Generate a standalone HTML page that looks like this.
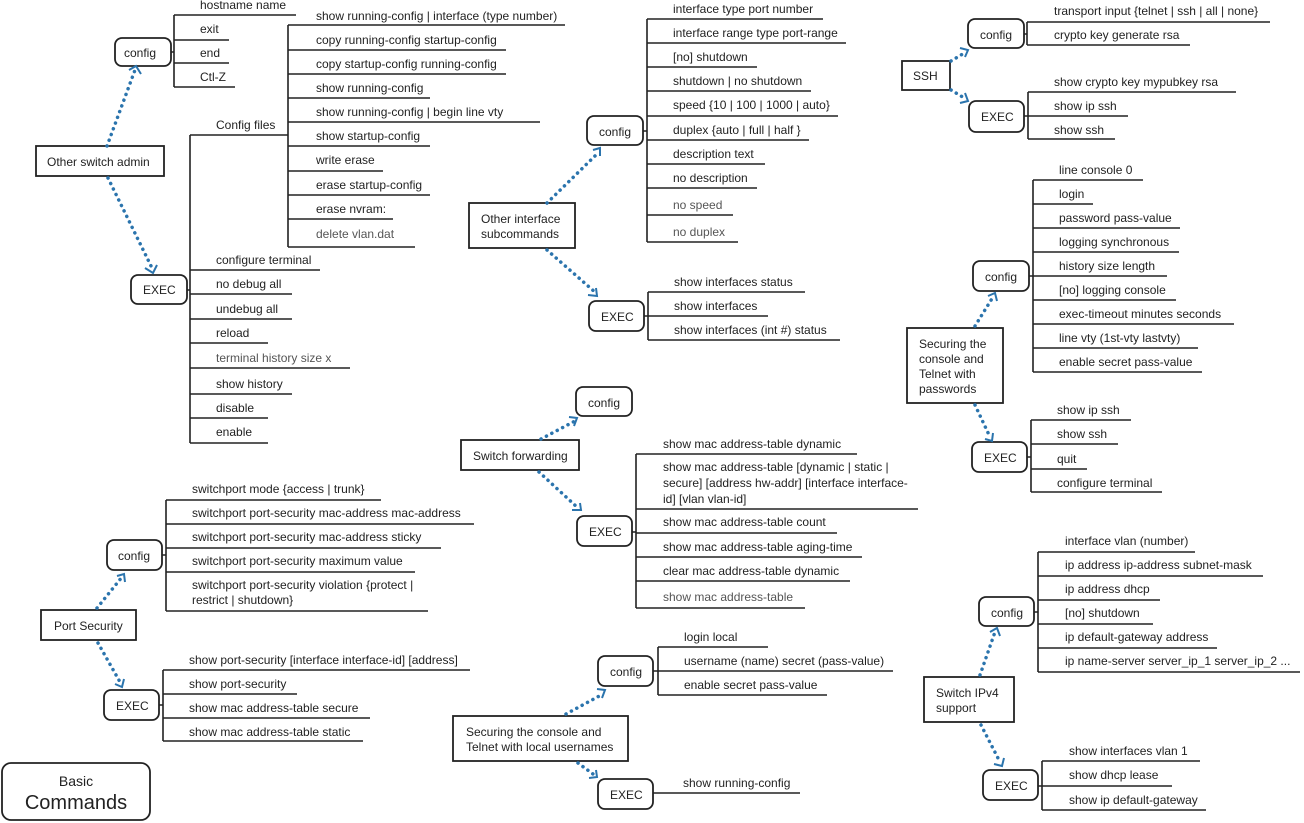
<!DOCTYPE html>
<html><head><meta charset="utf-8"><style>
html,body{margin:0;padding:0;background:#fff;}
svg{display:block;}
text{font-family:"Liberation Sans",sans-serif;font-size:12px;fill:#222;}
.g{fill:#555;}
.l{stroke:#222;stroke-width:1.6;fill:none;}
.b{stroke:#222;stroke-width:1.8;fill:#fff;}
.a{stroke:#2b74ad;stroke-width:3.5;stroke-dasharray:0.1 6;stroke-linecap:round;fill:none;}
.h{stroke:#2b74ad;stroke-width:2;fill:none;}
</style></head><body>
<svg width="1304" height="823" viewBox="0 0 1304 823" xmlns="http://www.w3.org/2000/svg">

<!-- ===== Other switch admin ===== -->
<rect class="b" x="36" y="146" width="128" height="30"/>
<text x="47" y="166">Other switch admin</text>
<rect class="b" x="115" y="38" width="56" height="28" rx="7"/>
<text x="124" y="57">config</text>
<rect class="b" x="131" y="275" width="56" height="29" rx="7"/>
<text x="143" y="294">EXEC</text>
<path class="a" d="M107 146 L135 70"/><path class="h" d="M129 70 L136 66 L141 74"/>
<path class="a" d="M108 178 L152 268"/><path class="h" d="M145 268 L153 273 L157 265"/>

<path class="l" d="M171 52 H174 M174 15 V87 M174 15 H296 M174 40 H229 M174 63 H229 M174 87 H235"/>
<text x="200" y="9">hostname name</text>
<text x="200" y="33">exit</text>
<text x="200" y="57">end</text>
<text x="200" y="81">Ctl-Z</text>

<path class="l" d="M190 135 V443 M190 135 H288 M288 25 V247 M187 290 H190"/>
<text x="216" y="129">Config files</text>
<path class="l" d="M288 25 H565 M288 50 H506 M288 74 H506 M288 98 H430 M288 122 H540 M288 146 H430 M288 171 H383 M288 195 H430 M288 219 H393 M288 247 H415"/>
<text x="316" y="20">show running-config | interface (type number)</text>
<text x="316" y="44">copy running-config startup-config</text>
<text x="316" y="68">copy startup-config running-config</text>
<text x="316" y="92">show running-config</text>
<text x="316" y="116">show running-config | begin line vty</text>
<text x="316" y="140">show startup-config</text>
<text x="316" y="164">write erase</text>
<text x="316" y="189">erase startup-config</text>
<text x="316" y="213">erase nvram:</text>
<text x="316" y="238" class="g">delete vlan.dat</text>

<path class="l" d="M190 270 H320 M190 294 H292 M190 319 H292 M190 343 H268 M190 368 H350 M190 394 H292 M190 418 H268 M190 443 H268"/>
<text x="216" y="264">configure terminal</text>
<text x="216" y="288">no debug all</text>
<text x="216" y="313">undebug all</text>
<text x="216" y="337">reload</text>
<text x="216" y="362" class="g">terminal history size x</text>
<text x="216" y="388">show history</text>
<text x="216" y="412">disable</text>
<text x="216" y="436">enable</text>

<!-- ===== Other interface subcommands ===== -->
<rect class="b" x="469" y="203" width="106" height="45"/>
<text x="481" y="223">Other interface</text>
<text x="481" y="238">subcommands</text>
<rect class="b" x="587" y="116" width="56" height="29" rx="7"/>
<text x="599" y="136">config</text>
<rect class="b" x="589" y="301" width="55" height="30" rx="7"/>
<text x="601" y="321">EXEC</text>
<path class="a" d="M547 203 L599 152"/><path class="h" d="M593 150 L600 148 L600 156"/>
<path class="a" d="M547 250 L596 293"/><path class="h" d="M588 295 L597 296 L596 288"/>
<path class="l" d="M643 131 H647 M647 19 V242 M647 19 H823 M647 43 H846 M647 67 H757 M647 91 H811 M647 116 H838 M647 140 H809 M647 164 H765 M647 188 H757 M647 215 H733 M647 242 H738"/>
<text x="673" y="13">interface type port number</text>
<text x="673" y="37">interface range type port-range</text>
<text x="673" y="61">[no] shutdown</text>
<text x="673" y="85">shutdown | no shutdown</text>
<text x="673" y="109">speed {10 | 100 | 1000 | auto}</text>
<text x="673" y="134">duplex {auto | full | half }</text>
<text x="673" y="158">description text</text>
<text x="673" y="182">no description</text>
<text x="673" y="209" class="g">no speed</text>
<text x="673" y="236" class="g">no duplex</text>
<path class="l" d="M644 316 H648 M648 292 V340 M648 292 H805 M648 316 H768 M648 340 H840"/>
<text x="674" y="286">show interfaces status</text>
<text x="674" y="310">show interfaces</text>
<text x="674" y="334">show interfaces (int #) status</text>

<!-- ===== SSH ===== -->
<rect class="b" x="902" y="61" width="48" height="29"/>
<text x="913" y="80">SSH</text>
<rect class="b" x="968" y="19" width="56" height="29" rx="7"/>
<text x="980" y="39">config</text>
<rect class="b" x="969" y="101" width="55" height="31" rx="7"/>
<text x="981" y="121">EXEC</text>
<path class="a" d="M951 61 L966 52"/><path class="h" d="M960 48 L968 50 L965 57"/>
<path class="a" d="M951 90 L966 99"/><path class="h" d="M960 103 L968 101 L965 93"/>
<path class="l" d="M1024 34 H1027 M1027 22 V45 M1027 22 H1270 M1027 45 H1190"/>
<text x="1054" y="15">transport input {telnet | ssh | all | none}</text>
<text x="1054" y="39">crypto key generate rsa</text>
<path class="l" d="M1024 116 H1028 M1028 92 V139 M1028 92 H1236 M1028 116 H1128 M1028 139 H1115"/>
<text x="1054" y="86">show crypto key mypubkey rsa</text>
<text x="1054" y="110">show ip ssh</text>
<text x="1054" y="134">show ssh</text>

<!-- ===== Securing console passwords ===== -->
<rect class="b" x="907" y="328" width="96" height="75"/>
<text x="919" y="348">Securing the</text>
<text x="919" y="363">console and</text>
<text x="919" y="378">Telnet with</text>
<text x="919" y="393">passwords</text>
<rect class="b" x="973" y="261" width="56" height="30" rx="7"/>
<text x="985" y="281">config</text>
<rect class="b" x="972" y="442" width="55" height="30" rx="7"/>
<text x="984" y="462">EXEC</text>
<path class="a" d="M975 326 L993 297"/><path class="h" d="M988 296 L995 293 L997 301"/>
<path class="a" d="M975 405 L990 437"/><path class="h" d="M985 439 L992 441 L993 433"/>
<path class="l" d="M1029 276 H1033 M1033 180 V372 M1033 180 H1143 M1033 204 H1093 M1033 228 H1180 M1033 252 H1179 M1033 276 H1167 M1033 300 H1176 M1033 324 H1234 M1033 348 H1198 M1033 372 H1202"/>
<text x="1059" y="174">line console 0</text>
<text x="1059" y="198">login</text>
<text x="1059" y="222">password pass-value</text>
<text x="1059" y="246">logging synchronous</text>
<text x="1059" y="270">history size length</text>
<text x="1059" y="294">[no] logging console</text>
<text x="1059" y="318">exec-timeout minutes seconds</text>
<text x="1059" y="342">line vty (1st-vty lastvty)</text>
<text x="1059" y="366">enable secret pass-value</text>
<path class="l" d="M1027 457 H1031 M1031 420 V492 M1031 420 H1131 M1031 444 H1118 M1031 469 H1087 M1031 492 H1162"/>
<text x="1057" y="414">show ip ssh</text>
<text x="1057" y="438">show ssh</text>
<text x="1057" y="463">quit</text>
<text x="1057" y="487">configure terminal</text>

<!-- ===== Switch forwarding ===== -->
<rect class="b" x="461" y="440" width="118" height="30"/>
<text x="473" y="460">Switch forwarding</text>
<rect class="b" x="576" y="387" width="56" height="29" rx="7"/>
<text x="588" y="407">config</text>
<rect class="b" x="577" y="516" width="55" height="30" rx="7"/>
<text x="589" y="536">EXEC</text>
<path class="a" d="M541 439 L575 421"/><path class="h" d="M569 417 L577 418 L574 426"/>
<path class="a" d="M539 472 L578 508"/><path class="h" d="M572 510 L581 510 L580 503"/>
<path class="l" d="M632 532 H636 M636 454 V608 M636 454 H857 M636 509 H918 M636 533 H837 M636 557 H862 M636 581 H850 M636 608 H805"/>
<text x="663" y="448">show mac address-table dynamic</text>
<text x="663" y="471">show mac address-table [dynamic | static |</text>
<text x="663" y="487">secure] [address hw-addr] [interface interface-</text>
<text x="663" y="503">id] [vlan vlan-id]</text>
<text x="663" y="526">show mac address-table count</text>
<text x="663" y="551">show mac address-table aging-time</text>
<text x="663" y="575">clear mac address-table dynamic</text>
<text x="663" y="601" class="g">show mac address-table</text>

<!-- ===== Port Security ===== -->
<rect class="b" x="41" y="610" width="95" height="30"/>
<text x="54" y="630">Port Security</text>
<rect class="b" x="107" y="540" width="55" height="30" rx="7"/>
<text x="118" y="560">config</text>
<rect class="b" x="104" y="690" width="55" height="30" rx="7"/>
<text x="116" y="710">EXEC</text>
<path class="a" d="M97 608 L122 577"/><path class="h" d="M117 576 L124 574 L125 582"/>
<path class="a" d="M98 643 L120 682"/><path class="h" d="M115 684 L122 687 L124 679"/>
<path class="l" d="M162 555 H166 M166 500 V611 M166 500 H381 M166 524 H474 M166 548 H441 M166 572 H415 M166 611 H428"/>
<text x="192" y="493">switchport mode {access | trunk}</text>
<text x="192" y="517">switchport port-security mac-address mac-address</text>
<text x="192" y="541">switchport port-security mac-address sticky</text>
<text x="192" y="565">switchport port-security maximum value</text>
<text x="192" y="589">switchport port-security violation {protect |</text>
<text x="192" y="604">restrict | shutdown}</text>
<path class="l" d="M159 705 H163 M163 670 V741 M163 670 H470 M163 694 H297 M163 718 H370 M163 741 H363"/>
<text x="189" y="664">show port-security [interface interface-id] [address]</text>
<text x="189" y="688">show port-security</text>
<text x="189" y="712">show mac address-table secure</text>
<text x="189" y="736">show mac address-table static</text>

<!-- ===== Securing local usernames ===== -->
<rect class="b" x="453" y="716" width="175" height="45"/>
<text x="466" y="736">Securing the console and</text>
<text x="466" y="751">Telnet with local usernames</text>
<rect class="b" x="598" y="656" width="55" height="30" rx="7"/>
<text x="610" y="676">config</text>
<rect class="b" x="598" y="779" width="55" height="30" rx="7"/>
<text x="610" y="799">EXEC</text>
<path class="a" d="M566 714 L603 694"/><path class="h" d="M597 689 L605 690 L602 698"/>
<path class="a" d="M578 763 L593 774"/><path class="h" d="M589 778 L597 777 L596 770"/>
<path class="l" d="M653 671 H658 M658 647 V695 M658 647 H768 M658 671 H893 M658 695 H827 M653 793 H800"/>
<text x="684" y="641">login local</text>
<text x="684" y="665">username (name) secret (pass-value)</text>
<text x="684" y="689">enable secret pass-value</text>
<text x="683" y="787">show running-config</text>

<!-- ===== Switch IPv4 support ===== -->
<rect class="b" x="924" y="677" width="90" height="45"/>
<text x="936" y="697">Switch IPv4</text>
<text x="936" y="712">support</text>
<rect class="b" x="979" y="597" width="55" height="29" rx="7"/>
<text x="991" y="617">config</text>
<rect class="b" x="983" y="770" width="55" height="30" rx="7"/>
<text x="995" y="790">EXEC</text>
<path class="a" d="M980 675 L995 632"/><path class="h" d="M990 632 L997 628 L1000 636"/>
<path class="a" d="M981 725 L1000 762"/><path class="h" d="M994 764 L1002 766 L1004 758"/>
<path class="l" d="M1034 612 H1038 M1038 552 V672 M1038 552 H1195 M1038 576 H1263 M1038 600 H1160 M1038 624 H1153 M1038 648 H1217 M1038 672 H1300"/>
<text x="1065" y="545">interface vlan (number)</text>
<text x="1065" y="569">ip address ip-address subnet-mask</text>
<text x="1065" y="593">ip address dhcp</text>
<text x="1065" y="617">[no] shutdown</text>
<text x="1065" y="641">ip default-gateway address</text>
<text x="1065" y="665">ip name-server server_ip_1 server_ip_2 ...</text>
<path class="l" d="M1038 786 H1042 M1042 761 V810 M1042 761 H1200 M1042 786 H1172 M1042 810 H1206"/>
<text x="1069" y="755">show interfaces vlan 1</text>
<text x="1069" y="779">show dhcp lease</text>
<text x="1069" y="804">show ip default-gateway</text>

<!-- ===== Basic Commands ===== -->
<rect class="b" x="2" y="763" width="148" height="57" rx="9"/>
<text x="76" y="786" text-anchor="middle" style="font-size:14px">Basic</text>
<text x="76" y="809" text-anchor="middle" style="font-size:20px">Commands</text>
</svg>
</body></html>
